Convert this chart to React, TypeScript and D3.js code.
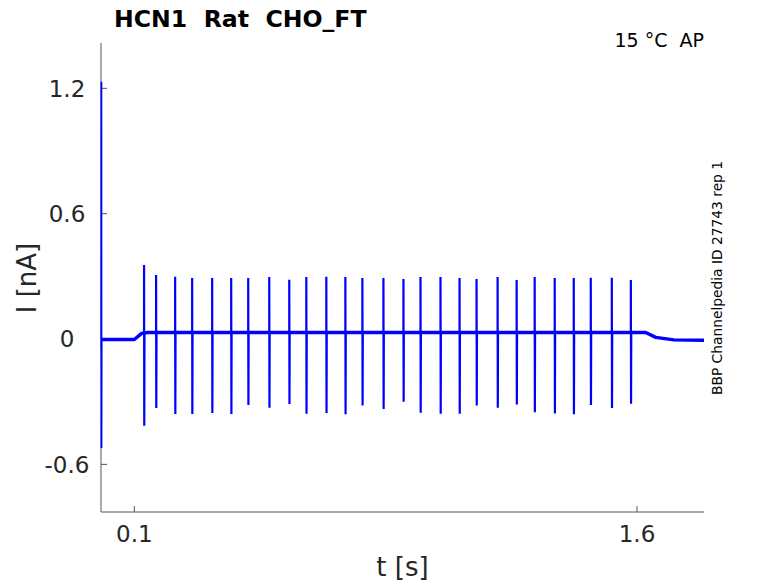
import { useRef, useEffect } from "react";
import * as d3 from "d3";

// recording trace
const spikeTimes = [
  0.1291, 0.165, 0.2218, 0.2726, 0.3323, 0.3891, 0.4399, 0.5027, 0.5624,
  0.6133, 0.673, 0.7298, 0.7806, 0.8434, 0.9031, 0.954, 1.0137, 1.0705,
  1.1213, 1.1841, 1.2409, 1.2947, 1.3545, 1.4113, 1.4621, 1.5249, 1.5817,
];
const spikePeaks = [
  0.354, 0.306, 0.298, 0.292, 0.292, 0.292, 0.292, 0.297, 0.284, 0.297,
  0.298, 0.297, 0.292, 0.292, 0.287, 0.297, 0.297, 0.292, 0.287, 0.297,
  0.282, 0.297, 0.292, 0.292, 0.293, 0.293, 0.282,
];
const spikeTroughs = [
  -0.415, -0.33, -0.359, -0.359, -0.354, -0.359, -0.316, -0.329, -0.311,
  -0.358, -0.354, -0.36, -0.318, -0.335, -0.3, -0.353, -0.358, -0.358,
  -0.318, -0.329, -0.313, -0.351, -0.356, -0.36, -0.316, -0.33, -0.31,
];
const plateau = 0.031;

// start-of-sweep artifact
const artifactTimes = [0.0015, 0.0018, 0.0021, 0.0026];
const artifactCurrent = [-0.05, 1.232, -0.522, -0.002];

const baseTimes = [0.0026, 0.1, 0.122, 0.14, 1.626, 1.656, 1.71, 1.8];
const baseCurrent = [-0.002, -0.002, 0.027, 0.031, 0.031, 0.008, -0.004, -0.006];

const xTicks = [0.1, 1.6];
const yTicks = [-0.6, 0, 0.6, 1.2];

const W = 778;
const H = 583;

export default function App() {
  const svgRef = useRef(null);

  function renderChart() {
    const svg = d3.select(svgRef.current);
    svg.selectAll("*").remove();
    svg.attr("width", W).attr("height", H);

    const left = 101,
      right = 704,
      top = 43,
      bottom = 512;

    const x = d3.scaleLinear().domain([0, 1.8]).range([left - 0.2, right]);
    const y = d3.scaleLinear().domain([-0.828, 1.417]).range([bottom, top]);

    const font = "DejaVu Sans, sans-serif";
    const axisColor = "#555";
    const textColor = "#262626";

    // axes first, the trace sits on top
    svg
      .append("line")
      .attr("x1", left)
      .attr("x2", left)
      .attr("y1", top)
      .attr("y2", bottom)
      .attr("stroke", axisColor);
    svg
      .append("line")
      .attr("x1", left)
      .attr("x2", right)
      .attr("y1", bottom)
      .attr("y2", bottom)
      .attr("stroke", axisColor);

    svg
      .append("g")
      .selectAll("line")
      .data(yTicks)
      .join("line")
      .attr("x1", left)
      .attr("x2", left + 6)
      .attr("y1", (d) => y(d))
      .attr("y2", (d) => y(d))
      .attr("stroke", axisColor);
    svg
      .append("g")
      .selectAll("text")
      .data(yTicks)
      .join("text")
      .attr("x", left - 34)
      .attr("y", (d) => y(d))
      .attr("dy", "0.36em")
      .attr("text-anchor", "middle")
      .attr("font-family", font)
      .attr("font-size", 23)
      .attr("fill", textColor)
      .text((d) => (d === 0 ? "0" : String(d)));

    svg
      .append("g")
      .selectAll("line")
      .data(xTicks)
      .join("line")
      .attr("x1", (d) => x(d))
      .attr("x2", (d) => x(d))
      .attr("y1", bottom)
      .attr("y2", bottom - 6)
      .attr("stroke", axisColor);
    svg
      .append("g")
      .selectAll("text")
      .data(xTicks)
      .join("text")
      .attr("x", (d) => x(d))
      .attr("y", 542)
      .attr("text-anchor", "middle")
      .attr("font-family", font)
      .attr("font-size", 23)
      .attr("fill", textColor)
      .text((d) => String(d));

    // baseline trace (thick, stands in for the recording noise)
    const baseLine = d3
      .line<number>()
      .x((_, i) => x(baseTimes[i]))
      .y((d) => y(d));
    svg
      .append("path")
      .attr("d", baseLine(baseCurrent))
      .attr("fill", "none")
      .attr("stroke", "#0000ff")
      .attr("stroke-width", 3.4)
      .attr("stroke-linejoin", "round");

    const artLine = d3
      .line<number>()
      .x((_, i) => x(artifactTimes[i]))
      .y((d) => y(d));
    svg
      .append("path")
      .attr("d", artLine(artifactCurrent))
      .attr("fill", "none")
      .attr("stroke", "#0000ff")
      .attr("stroke-width", 1.8);

    // capacitive spikes
    const spikeLine = d3
      .line<[number, number]>()
      .x((d) => x(d[0]))
      .y((d) => y(d[1]));
    svg
      .append("g")
      .selectAll("path")
      .data(spikeTimes)
      .join("path")
      .attr("d", (t, i) =>
        spikeLine([
          [t, plateau],
          [t, spikePeaks[i]],
          [t + 0.0006, spikeTroughs[i]],
          [t + 0.0012, plateau],
        ])
      )
      .attr("fill", "none")
      .attr("stroke", "#0000ff")
      .attr("stroke-width", 2.2);

    // labels
    svg
      .append("text")
      .attr("x", (left + right) / 2)
      .attr("y", 576)
      .attr("text-anchor", "middle")
      .attr("font-family", font)
      .attr("font-size", 26)
      .attr("fill", textColor)
      .text("t [s]");
    svg
      .append("text")
      .attr("transform", "translate(36,278) rotate(-90)")
      .attr("text-anchor", "middle")
      .attr("font-family", font)
      .attr("font-size", 26)
      .attr("fill", textColor)
      .text("I [nA]");

    svg
      .append("text")
      .attr("x", 114)
      .attr("y", 27)
      .attr("font-family", font)
      .attr("font-size", 23.6)
      .attr("font-weight", "bold")
      .attr("fill", "#000")
      .style("white-space", "pre")
      .text("HCN1  Rat  CHO_FT");
    svg
      .append("text")
      .attr("x", 704)
      .attr("y", 47)
      .attr("text-anchor", "end")
      .attr("font-family", font)
      .attr("font-size", 19)
      .attr("fill", "#000")
      .style("white-space", "pre")
      .text("15 °C  AP");
    svg
      .append("text")
      .attr("transform", "translate(722,278) rotate(-90)")
      .attr("text-anchor", "middle")
      .attr("font-family", font)
      .attr("font-size", 13.8)
      .attr("fill", "#000")
      .text("BBP Channelpedia ID 27743 rep 1");
  }

  useEffect(() => {
    renderChart();
  }, []);

  return (
    <div style={{ position: "absolute", left: 0, top: 0 }}>
      <svg ref={svgRef} style={{ display: "block" }} />
    </div>
  );
}
